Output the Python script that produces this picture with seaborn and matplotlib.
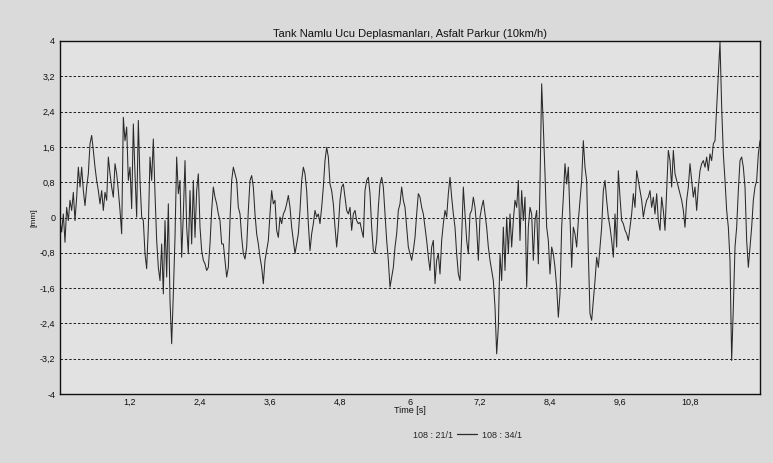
"""
Barrel tip displacement of the tank on asphalt track (10 km/h), redrawn from a scanned plot.
"""
import numpy as np
import pandas as pd
import matplotlib
matplotlib.use("Agg")
import matplotlib.pyplot as plt
import seaborn as sns
from matplotlib.lines import Line2D

# sample interval of the trace [s] (0 .. 12 s)
DT = 12.0 / 420

# barrel tip displacement [mm], one chunk per ~3 s
disp_0_3s = [
    -0.07, -0.33, 0.08, -0.56, 0.23, -0.07, 0.39, 0.16, 0.57, -0.07,
    0.46, 1.14, 0.69, 1.14, 0.61, 0.27, 0.69, 0.99, 1.67, 1.86,
    1.52, 1.14, 0.84, 0.61, 0.31, 0.61, 0.16, 0.57, 0.39, 1.37,
    0.99, 0.69, 0.46, 1.22, 0.99, 0.61, 0.16, -0.37, 2.27, 1.74,
    2.05, 0.84, 1.14, 0.20, 2.12, 0.99, 0.01, 2.20, 0.84, 0.01,
    -0.07, -0.82, -1.16, -0.22, 1.37, 0.84, 1.78, 0.54, -0.52, -1.13,
    -1.43, -0.60, -1.73, -0.07, -1.35, 0.31, -1.88, -2.86, -1.73, -0.45,
    1.37, 0.54, 0.84, -0.90, 0.08, 1.29, -0.22, -0.82, 0.61, -0.60,
    0.84, -0.45, 0.61, 0.99, -0.22, -0.75, -0.97, -1.05, -1.20, -1.13,
    -0.60, 0.16, 0.69, 0.46, 0.31, 0.08, -0.07, -0.60, -0.60, -0.97,
    -1.35, -1.13, -0.07, 0.84, 1.14,
]
disp_3_6s = [
    0.99, 0.84, 0.23, 0.08, -0.45, -0.82, -0.94, -0.67, 0.16, 0.84,
    0.95, 0.69, 0.08, -0.37, -0.60, -0.90, -1.13, -1.50, -0.97, -0.75,
    -0.52, 0.08, 0.61, 0.31, 0.39, -0.29, -0.45, 0.01, -0.14, 0.08,
    0.16, 0.31, 0.50, 0.23, -0.22, -0.52, -0.82, -0.60, -0.37, 0.16,
    0.84, 1.14, 0.99, 0.61, -0.14, -0.75, -0.37, -0.14, 0.16, 0.01,
    0.08, -0.14, 0.23, 0.69, 1.29, 1.59, 1.37, 0.76, 0.61, 0.31,
    -0.22, -0.67, -0.22, 0.39, 0.69, 0.76, 0.46, 0.16, 0.08, 0.23,
    -0.29, 0.08, 0.16, -0.07, -0.14, -0.11, -0.29, -0.45, 0.61, 0.84,
    0.91, 0.54, -0.22, -0.75, -0.82, -0.52, 0.23, 0.76, 0.91, 0.69,
    0.08, -0.52, -0.97, -1.58, -1.35, -1.13, -0.67, -0.37, 0.16, 0.31,
    0.69, 0.39,
]
disp_6_9s = [
    0.23, -0.22, -0.67, -0.82, -0.97, -0.75, -0.45, 0.08, 0.54, 0.46,
    0.23, 0.08, -0.22, -0.52, -0.90, -1.20, -0.67, -0.52, -1.50, -0.97,
    -0.82, -1.28, -0.52, -0.14, 0.16, 0.01, 0.54, 0.91, 0.46, 0.08,
    -0.22, -0.82, -1.28, -1.43, -0.45, 0.69, 0.08, -0.52, -0.82, 0.08,
    0.16, 0.46, 0.23, -0.22, -0.97, 0.01, 0.23, 0.39, 0.08, -0.22,
    -0.67, -0.97, -1.20, -1.43, -2.03, -3.09, -2.48, -0.82, -1.43, -0.22,
    -1.20, 0.01, -0.82, 0.08, -0.67, -0.07, 0.39, 0.23, 0.84, -0.52,
    0.61, -0.07, 0.46, -1.58, -0.22, 0.23, 0.08, -0.97, -0.07, 0.16,
    -1.05, 0.76, 3.03, 2.05, 0.99, -0.22, -0.52, -1.28, -0.67, -0.82,
    -1.13, -1.58, -2.26, -1.73, -0.22, 0.46, 1.22, 0.76, 1.14, 0.01,
    -1.13, -0.22,
]
disp_9_12s = [
    -0.37, -0.67, -0.07, 0.39, 0.84, 1.74, 1.14, 0.84, -0.82, -2.18,
    -2.33, -1.88, -1.43, -0.90, -1.13, -0.67, -0.22, 0.61, 0.84, 0.39,
    0.01, -0.22, -0.52, -0.90, 0.08, -0.67, 1.06, 0.46, -0.07, -0.14,
    -0.29, -0.37, -0.52, -0.22, 0.08, 0.54, 0.23, 1.06, 0.84, 0.61,
    0.39, 0.01, 0.23, 0.39, 0.46, 0.61, 0.23, 0.46, 0.08, 0.54,
    -0.07, -0.29, 0.46, 0.16, -0.29, 0.61, 1.52, 1.29, 0.69, 1.52,
    0.99, 0.84, 0.69, 0.54, 0.39, 0.16, -0.22, 0.39, 0.69, 1.22,
    0.84, 0.46, 0.69, 0.16, 0.69, 1.06, 1.22, 1.29, 1.14, 1.37,
    1.06, 1.44, 1.29, 1.67, 1.74, 2.50, 3.26, 3.98, 2.50, 1.44,
    0.84, 0.16, -0.22, -0.97, -3.24, -2.03, -0.67, -0.22, 0.61, 1.29,
    1.37, 1.14, 0.69, -0.52, -1.13, -0.67, -0.22, 0.39, 0.69, 0.84,
    1.44, 1.74,
]

y_ticks = [-4, -3.2, -2.4, -1.6, -0.8, 0, 0.8, 1.6, 2.4, 3.2, 4]
y_tick_labels = ["-4", "-3,2", "-2,4", "-1,6", "-0,8", "0", "0,8", "1,6", "2,4", "3,2", "4"]
x_ticks = [1.2, 2.4, 3.6, 4.8, 6, 7.2, 8.4, 9.6, 10.8]
x_tick_labels = ["1,2", "2,4", "3,6", "4,8", "6", "7,2", "8,4", "9,6", "10,8"]

title = "Tank Namlu Ucu Deplasmanları, Asfalt Parkur (10km/h)"
series_a = "108 : 21/1"
series_b = "108 : 34/1"


def main():
    disp = np.concatenate([disp_0_3s, disp_3_6s, disp_6_9s, disp_9_12s])
    df = pd.DataFrame({"time": np.arange(len(disp)) * DT, "disp": disp})

    sns.set_style("white")
    plt.rcParams["font.family"] = ["Liberation Sans", "DejaVu Sans"]
    bg = "#dadada"

    fig = plt.figure(figsize=(7.73, 4.63), dpi=100, facecolor=bg)
    ax = fig.add_axes([60 / 773, 1 - 394 / 463, 700 / 773, 353 / 463])
    ax.set_facecolor("#e2e2e2")

    sns.lineplot(data=df, x="time", y="disp", color="#2a2a2a", lw=0.75,
                 errorbar=None, ax=ax)

    ax.set_xlim(0, 12)
    ax.set_ylim(-4, 4)
    ax.set_yticks(y_ticks)
    ax.set_yticklabels(y_tick_labels, fontsize=6.5)
    ax.set_xticks(x_ticks)
    ax.set_xticklabels(x_tick_labels, fontsize=6.5)
    ax.tick_params(axis="y", length=2, width=0.6, pad=1.5, colors="#111111")
    ax.tick_params(axis="x", length=0, pad=3, colors="#111111")

    # dashed horizontal grid only
    for y in y_ticks[1:-1]:
        ax.axhline(y, color="#1a1a1a", lw=0.7, ls=(0, (2.5, 2)), zorder=0)

    for side in ax.spines.values():
        side.set_visible(True)
        side.set_color("#111111")
        side.set_linewidth(1.0)

    ax.set_title(title, fontsize=8, pad=3, color="#111111")
    ax.set_xlabel("Time [s]", fontsize=6.5, color="#111111")
    ax.set_ylabel("[mm]", fontsize=6, color="#111111")
    ax.xaxis.set_label_coords(0.5, -0.035)
    ax.yaxis.set_label_coords(-0.033, 0.5)

    handles = [Line2D([], [], color="none"), Line2D([], [], color="#2a2a2a", lw=0.9)]
    fig.legend(handles, [series_a, series_b], ncol=2, frameon=False,
               loc="center", bbox_to_anchor=(455 / 773, 1 - 435 / 463),
               fontsize=6.5, handlelength=2.2, handletextpad=0.5,
               columnspacing=0.5)

    fig.savefig("out.png", dpi=100, facecolor=bg)


if __name__ == "__main__":
    main()
